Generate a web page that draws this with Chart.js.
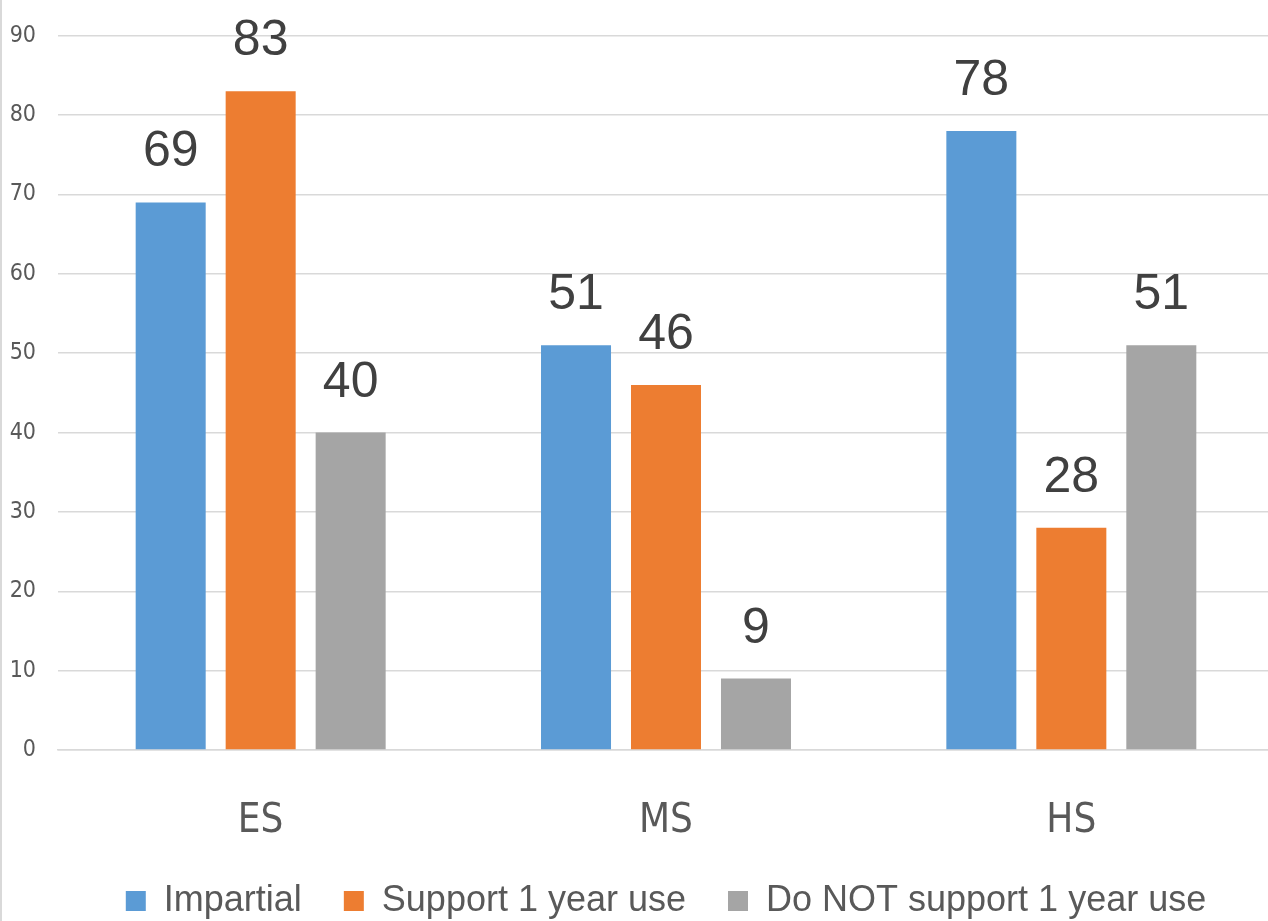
<!DOCTYPE html>
<html>
<head>
<meta charset="utf-8">
<script src="https://cdn.jsdelivr.net/npm/chart.js@4/dist/chart.umd.min.js"></script>
<style>
  html, body { margin: 0; padding: 0; background: #fff; overflow: hidden; }
  #wrap { position: relative; width: 1274px; height: 921px; }
  #edge { position: absolute; left: 0; top: 0; width: 2px; height: 921px; background: #d9d9d9; }
</style>
</head>
<body>
<div id="wrap">
  <canvas id="chart"></canvas>
  <div id="edge"></div>
</div>
<script>
// ---- data ----
const CATEGORIES = ['ES', 'MS', 'HS'];
const SERIES_NAMES = ['Impartial', 'Support 1 year use', 'Do NOT support 1 year use'];
const IMPARTIAL   = [69, 51, 78];
const SUPPORT     = [83, 46, 28];
const NOT_SUPPORT = [40, 9, 51];
const Y_MIN = 0, Y_MAX = 90, Y_STEP = 10;

const COLORS = ['#5B9BD5', '#ED7D31', '#A5A5A5'];
const TEXT   = '#595959';
const GRID   = '#d9d9d9';
const COND   = '"DejaVu Sans Condensed", "Liberation Sans", sans-serif';
const SANS   = '"Liberation Sans", Arial, sans-serif';

// value labels above each bar
const valueLabels = {
  id: 'valueLabels',
  afterDatasetsDraw(chart) {
    const ctx = chart.ctx;
    ctx.save();
    ctx.font = '50px ' + SANS;
    ctx.fillStyle = '#404040';
    ctx.textAlign = 'center';
    ctx.textBaseline = 'alphabetic';
    chart.data.datasets.forEach((ds, i) => {
      chart.getDatasetMeta(i).data.forEach((bar, j) => {
        ctx.fillText(String(ds.data[j]), bar.x, bar.y - 36);
      });
    });
    ctx.restore();
  }
};

const seriesData = [IMPARTIAL, SUPPORT, NOT_SUPPORT];

new Chart(document.getElementById('chart'), {
  type: 'bar',
  data: {
    labels: CATEGORIES,
    datasets: SERIES_NAMES.map((name, i) => ({
      label: name,
      data: seriesData[i],
      backgroundColor: COLORS[i],
      borderWidth: 0,
      barPercentage: 0.778,
      categoryPercentage: 0.666
    }))
  },
  options: {
    responsive: true,
    maintainAspectRatio: false,
    animation: false,
    layout: { padding: { top: 34, left: 0, right: 0, bottom: -8 } },
    plugins: {
      tooltip: { enabled: false },
      legend: {
        position: 'bottom',
        fullSize: false,
        labels: {
          color: TEXT,
          font: { family: SANS, size: 36 },
          boxWidth: 20,
          boxHeight: 20,
          padding: 42
        }
      }
    },
    scales: {
      x: {
        grid: { display: false },
        border: { color: GRID, width: 1.5 },
        ticks: {
          color: TEXT,
          font: { family: COND, size: 40 },
          padding: 40,
          maxRotation: 0
        },
        afterFit: s => { s.height = 91; }
      },
      y: {
        min: Y_MIN,
        max: Y_MAX,
        grid: { color: GRID, lineWidth: 1.5, drawTicks: false },
        border: { display: false },
        ticks: {
          stepSize: Y_STEP,
          color: TEXT,
          font: { family: COND, size: 23 },
          padding: 22
        },
        afterFit: s => { s.width = 58; }
      }
    }
  },
  plugins: [valueLabels]
});
</script>
</body>
</html>
